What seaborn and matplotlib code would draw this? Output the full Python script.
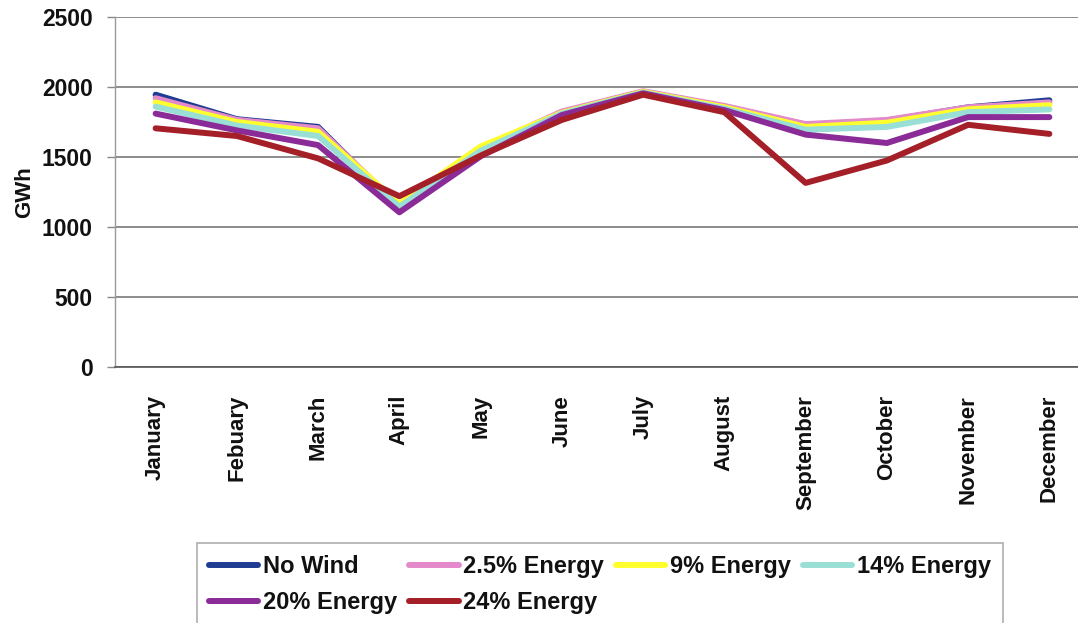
import matplotlib
matplotlib.use("Agg")
import matplotlib.pyplot as plt
import seaborn as sns
import pandas as pd

months = ["January", "Febuary", "March", "April", "May", "June", "July",
          "August", "September", "October", "November", "December"]

no_wind = [1945, 1770, 1715, 1135, 1530, 1820, 1965, 1860, 1730, 1760, 1855, 1905]
energy_2_5 = [1920, 1765, 1705, 1150, 1560, 1825, 1970, 1865, 1735, 1765, 1855, 1890]
energy_9 = [1890, 1750, 1680, 1165, 1575, 1815, 1965, 1855, 1715, 1745, 1840, 1870]
energy_14 = [1860, 1725, 1650, 1145, 1545, 1810, 1960, 1845, 1695, 1715, 1820, 1840]
energy_20 = [1810, 1690, 1585, 1105, 1505, 1800, 1955, 1835, 1660, 1600, 1785, 1785]
energy_24 = [1705, 1650, 1490, 1220, 1510, 1765, 1945, 1820, 1315, 1475, 1730, 1665]

series_names = ["No Wind", "2.5% Energy", "9% Energy", "14% Energy",
                "20% Energy", "24% Energy"]
series_values = [no_wind, energy_2_5, energy_9, energy_14, energy_20, energy_24]
colors = ["#1F3C93", "#E48ACB", "#FFFF2E", "#9ADFD6", "#8A2B98", "#A41F27"]

y_ticks = [0, 500, 1000, 1500, 2000, 2500]

rows = []
for name, vals in zip(series_names, series_values):
    for m, v in zip(months, vals):
        rows.append({"Month": m, "GWh": v, "Series": name})
df = pd.DataFrame(rows)

sns.set_theme(style="white")
plt.rcParams["font.family"] = ["Liberation Sans", "DejaVu Sans"]
plt.rcParams["font.weight"] = "bold"

fig = plt.figure(figsize=(10.78, 6.23), dpi=100)
ax = fig.add_axes([115 / 1078, 1 - 367 / 623, (1090 - 115) / 1078, (367 - 17) / 623])

sns.lineplot(data=df, x="Month", y="GWh", hue="Series", hue_order=series_names,
             palette=colors, linewidth=4.3, sort=False, ax=ax, legend=False)

ax.set_xlim(-0.5, len(months) - 0.5)
ax.set_ylim(0, 2500)
ax.set_yticks(y_ticks)
ax.set_yticklabels([str(t) for t in y_ticks], fontsize=16.5, fontweight="bold",
                   color="#111111")
ax.set_xticks(range(len(months)))
ax.set_xticklabels(months, rotation=90, fontsize=16, fontweight="bold",
                   color="#111111")
ax.set_xticks([i - 0.5 for i in range(len(months) + 1)], minor=True)
ax.tick_params(axis="x", which="major", length=0, pad=20)
ax.tick_params(axis="x", which="minor", length=6, color="#555555", width=1)
ax.tick_params(axis="y", length=6, color="#888888", width=1, left=True, pad=10)
ax.yaxis.grid(True, color="#8C8C8C", linewidth=1.4)
ax.xaxis.grid(False)
ax.set_axisbelow(True)
for s in ["top", "right"]:
    ax.spines[s].set_visible(False)
ax.spines["left"].set_color("#999999")
ax.spines["left"].set_linewidth(1)
ax.spines["bottom"].set_color("#555555")
ax.spines["bottom"].set_linewidth(1.2)
ax.set_xlabel("")
ax.set_ylabel("GWh", fontsize=16, fontweight="bold", labelpad=5, color="#111111")

# Legend: entries laid out row-wise across four columns
handles = [plt.Line2D([], [], color=c, linewidth=4.3) for c in colors]
order = [0, 4, 1, 5, 2, 3]
leg = fig.legend([handles[i] for i in order], [series_names[i] for i in order],
                 ncol=4, loc="upper left",
                 bbox_to_anchor=(197 / 1078, 1 - 543 / 623),
                 frameon=True, fancybox=False, edgecolor="#999999",
                 prop={"weight": "bold", "size": 17},
                 handlelength=2.1, handletextpad=0.2, columnspacing=0.5,
                 labelspacing=0.55, borderpad=0.5, borderaxespad=0)
leg.get_frame().set_linewidth(1.2)
for t in leg.get_texts():
    t.set_color("#111111")

fig.savefig("out.png", dpi=100)
